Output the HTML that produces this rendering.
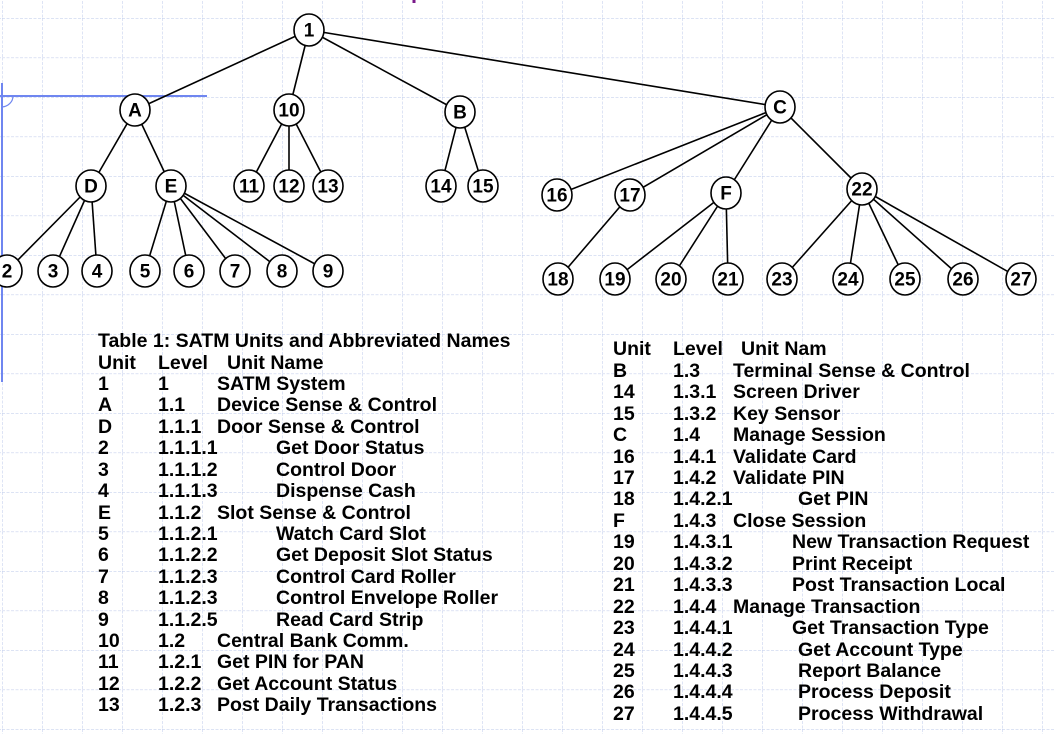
<!DOCTYPE html>
<html><head><meta charset="utf-8"><style>
html,body{margin:0;padding:0;background:#fff;}
svg{display:block;}
text{font-family:"Liberation Sans",Arial,sans-serif;font-weight:bold;fill:#000;}
.n{font-size:19px;text-anchor:middle;dominant-baseline:central;}
.t{font-size:19.5px;dominant-baseline:central;}
</style></head><body>
<svg width="1054" height="734" viewBox="0 0 1054 734" xmlns="http://www.w3.org/2000/svg">
<defs>
<pattern id="g" x="2" y="18" width="40" height="39.5" patternUnits="userSpaceOnUse">
<path d="M0 0H40M0 0V39.5" stroke="#c8d2ee" stroke-width="1.2" stroke-dasharray="3,1.5" fill="none"/>
</pattern>
</defs>
<rect width="1054" height="734" fill="url(#g)"/>
<line x1="414" y1="0" x2="414" y2="3" stroke="#7a1a8a" stroke-width="3"/>
<line x1="2" y1="83" x2="2" y2="382" stroke="#6f86f0" stroke-width="2"/>
<line x1="0" y1="96" x2="207" y2="96" stroke="#6f86f0" stroke-width="2"/>
<path d="M2 107 A12 11 0 0 0 13 96" stroke="#6f86f0" stroke-width="1.2" fill="none"/>
<g stroke="#000" stroke-width="1.6">
<line x1="309" y1="30" x2="135" y2="110"/><line x1="309" y1="30" x2="289" y2="110"/>
<line x1="309" y1="30" x2="460" y2="112"/><line x1="309" y1="30" x2="780" y2="107"/>
<line x1="135" y1="110" x2="91" y2="186"/><line x1="135" y1="110" x2="171" y2="186"/>
<line x1="289" y1="110" x2="249" y2="186"/><line x1="289" y1="110" x2="289" y2="186"/><line x1="289" y1="110" x2="328" y2="186"/>
<line x1="460" y1="112" x2="441" y2="186"/><line x1="460" y1="112" x2="483" y2="186"/>
<line x1="91" y1="186" x2="7" y2="271"/><line x1="91" y1="186" x2="53" y2="271"/><line x1="91" y1="186" x2="97" y2="271"/>
<line x1="171" y1="186" x2="145" y2="271"/><line x1="171" y1="186" x2="189" y2="271"/><line x1="171" y1="186" x2="235" y2="271"/><line x1="171" y1="186" x2="282" y2="271"/><line x1="171" y1="186" x2="328" y2="271"/>
<line x1="780" y1="107" x2="557" y2="195"/><line x1="780" y1="107" x2="630" y2="195"/><line x1="780" y1="107" x2="726" y2="193"/><line x1="780" y1="107" x2="862" y2="189"/>
<line x1="630" y1="195" x2="558" y2="279"/>
<line x1="726" y1="193" x2="615" y2="279"/><line x1="726" y1="193" x2="671" y2="279"/><line x1="726" y1="193" x2="728" y2="279"/>
<line x1="862" y1="189" x2="782" y2="279"/><line x1="862" y1="189" x2="848" y2="279"/><line x1="862" y1="189" x2="905" y2="279"/><line x1="862" y1="189" x2="963" y2="279"/><line x1="862" y1="189" x2="1021" y2="279"/>
</g>
<g fill="#fff" stroke="#000" stroke-width="1.6">
<ellipse cx="309" cy="30" rx="15" ry="16"/>
<ellipse cx="135" cy="110" rx="15" ry="16"/><ellipse cx="289" cy="110" rx="15" ry="16"/><ellipse cx="460" cy="112" rx="15" ry="16"/><ellipse cx="780" cy="107" rx="15" ry="16"/>
<ellipse cx="91" cy="186" rx="15" ry="16"/><ellipse cx="171" cy="186" rx="15" ry="16"/><ellipse cx="249" cy="186" rx="15" ry="16"/><ellipse cx="289" cy="186" rx="15" ry="16"/><ellipse cx="328" cy="186" rx="15" ry="16"/><ellipse cx="441" cy="186" rx="15" ry="16"/><ellipse cx="483" cy="186" rx="15" ry="16"/>
<ellipse cx="557" cy="195" rx="15" ry="16"/><ellipse cx="630" cy="195" rx="15" ry="16"/><ellipse cx="726" cy="193" rx="15" ry="16"/><ellipse cx="862" cy="189" rx="15" ry="16"/>
<ellipse cx="7" cy="271" rx="15" ry="16"/><ellipse cx="53" cy="271" rx="15" ry="16"/><ellipse cx="97" cy="271" rx="15" ry="16"/><ellipse cx="145" cy="271" rx="15" ry="16"/><ellipse cx="189" cy="271" rx="15" ry="16"/><ellipse cx="235" cy="271" rx="15" ry="16"/><ellipse cx="282" cy="271" rx="15" ry="16"/><ellipse cx="328" cy="271" rx="15" ry="16"/>
<ellipse cx="558" cy="279" rx="15" ry="16"/><ellipse cx="615" cy="279" rx="15" ry="16"/><ellipse cx="671" cy="279" rx="15" ry="16"/><ellipse cx="728" cy="279" rx="15" ry="16"/><ellipse cx="782" cy="279" rx="15" ry="16"/><ellipse cx="848" cy="279" rx="15" ry="16"/><ellipse cx="905" cy="279" rx="15" ry="16"/><ellipse cx="963" cy="279" rx="15" ry="16"/><ellipse cx="1021" cy="279" rx="15" ry="16"/>
</g>
<g class="n">
<text class="n" x="309" y="31">1</text>
<text class="n" x="135" y="111">A</text><text class="n" x="289" y="111">10</text><text class="n" x="460" y="113">B</text><text class="n" x="780" y="108">C</text>
<text class="n" x="91" y="187">D</text><text class="n" x="171" y="187">E</text><text class="n" x="249" y="187">11</text><text class="n" x="289" y="187">12</text><text class="n" x="328" y="187">13</text><text class="n" x="441" y="187">14</text><text class="n" x="483" y="187">15</text>
<text class="n" x="557" y="196">16</text><text class="n" x="630" y="196">17</text><text class="n" x="726" y="194">F</text><text class="n" x="862" y="190">22</text>
<text class="n" x="7" y="272">2</text><text class="n" x="53" y="272">3</text><text class="n" x="97" y="272">4</text><text class="n" x="145" y="272">5</text><text class="n" x="189" y="272">6</text><text class="n" x="235" y="272">7</text><text class="n" x="282" y="272">8</text><text class="n" x="328" y="272">9</text>
<text class="n" x="558" y="280">18</text><text class="n" x="615" y="280">19</text><text class="n" x="671" y="280">20</text><text class="n" x="728" y="280">21</text><text class="n" x="782" y="280">23</text><text class="n" x="848" y="280">24</text><text class="n" x="905" y="280">25</text><text class="n" x="963" y="280">26</text><text class="n" x="1021" y="280">27</text>
</g>
<g class="t">
<text class="t" x="98" y="341">Table 1:  SATM Units and Abbreviated Names</text>
<text class="t" x="98" y="363">Unit</text><text class="t" x="158" y="363">Level</text><text class="t" x="227" y="363">Unit Name</text>
<text class="t" x="98" y="384">1</text><text class="t" x="158" y="384">1</text><text class="t" x="217" y="384">SATM System</text>
<text class="t" x="98" y="405">A</text><text class="t" x="158" y="405">1.1</text><text class="t" x="217" y="405">Device Sense &amp; Control</text>
<text class="t" x="98" y="427">D</text><text class="t" x="158" y="427">1.1.1</text><text class="t" x="217" y="427">Door Sense &amp; Control</text>
<text class="t" x="98" y="448">2</text><text class="t" x="158" y="448">1.1.1.1</text><text class="t" x="276" y="448">Get Door Status</text>
<text class="t" x="98" y="470">3</text><text class="t" x="158" y="470">1.1.1.2</text><text class="t" x="276" y="470">Control Door</text>
<text class="t" x="98" y="491">4</text><text class="t" x="158" y="491">1.1.1.3</text><text class="t" x="276" y="491">Dispense Cash</text>
<text class="t" x="98" y="513">E</text><text class="t" x="158" y="513">1.1.2</text><text class="t" x="217" y="513">Slot Sense &amp; Control</text>
<text class="t" x="98" y="534">5</text><text class="t" x="158" y="534">1.1.2.1</text><text class="t" x="276" y="534">Watch Card Slot</text>
<text class="t" x="98" y="555">6</text><text class="t" x="158" y="555">1.1.2.2</text><text class="t" x="276" y="555">Get Deposit Slot Status</text>
<text class="t" x="98" y="577">7</text><text class="t" x="158" y="577">1.1.2.3</text><text class="t" x="276" y="577">Control Card Roller</text>
<text class="t" x="98" y="598">8</text><text class="t" x="158" y="598">1.1.2.3</text><text class="t" x="276" y="598">Control Envelope Roller</text>
<text class="t" x="98" y="620">9</text><text class="t" x="158" y="620">1.1.2.5</text><text class="t" x="276" y="620">Read Card Strip</text>
<text class="t" x="98" y="641">10</text><text class="t" x="158" y="641">1.2</text><text class="t" x="217" y="641">Central Bank Comm.</text>
<text class="t" x="98" y="662">11</text><text class="t" x="158" y="662">1.2.1</text><text class="t" x="217" y="662">Get PIN for PAN</text>
<text class="t" x="98" y="684">12</text><text class="t" x="158" y="684">1.2.2</text><text class="t" x="217" y="684">Get Account Status</text>
<text class="t" x="98" y="705">13</text><text class="t" x="158" y="705">1.2.3</text><text class="t" x="217" y="705">Post Daily Transactions</text>

<text class="t" x="613" y="349">Unit</text><text class="t" x="673" y="349">Level</text><text class="t" x="741" y="349">Unit Nam</text>
<text class="t" x="613" y="371">B</text><text class="t" x="673" y="371">1.3</text><text class="t" x="733" y="371">Terminal Sense &amp; Control</text>
<text class="t" x="613" y="392">14</text><text class="t" x="673" y="392">1.3.1</text><text class="t" x="733" y="392">Screen Driver</text>
<text class="t" x="613" y="414">15</text><text class="t" x="673" y="414">1.3.2</text><text class="t" x="733" y="414">Key Sensor</text>
<text class="t" x="613" y="435">C</text><text class="t" x="673" y="435">1.4</text><text class="t" x="733" y="435">Manage Session</text>
<text class="t" x="613" y="457">16</text><text class="t" x="673" y="457">1.4.1</text><text class="t" x="733" y="457">Validate Card</text>
<text class="t" x="613" y="478">17</text><text class="t" x="673" y="478">1.4.2</text><text class="t" x="733" y="478">Validate PIN</text>
<text class="t" x="613" y="499">18</text><text class="t" x="673" y="499">1.4.2.1</text><text class="t" x="798" y="499">Get PIN</text>
<text class="t" x="613" y="521">F</text><text class="t" x="673" y="521">1.4.3</text><text class="t" x="733" y="521">Close Session</text>
<text class="t" x="613" y="542">19</text><text class="t" x="673" y="542">1.4.3.1</text><text class="t" x="792" y="542">New Transaction Request</text>
<text class="t" x="613" y="564">20</text><text class="t" x="673" y="564">1.4.3.2</text><text class="t" x="792" y="564">Print Receipt</text>
<text class="t" x="613" y="585">21</text><text class="t" x="673" y="585">1.4.3.3</text><text class="t" x="792" y="585">Post Transaction Local</text>
<text class="t" x="613" y="607">22</text><text class="t" x="673" y="607">1.4.4</text><text class="t" x="733" y="607">Manage Transaction</text>
<text class="t" x="613" y="628">23</text><text class="t" x="673" y="628">1.4.4.1</text><text class="t" x="792" y="628">Get Transaction Type</text>
<text class="t" x="613" y="650">24</text><text class="t" x="673" y="650">1.4.4.2</text><text class="t" x="798" y="650">Get Account Type</text>
<text class="t" x="613" y="671">25</text><text class="t" x="673" y="671">1.4.4.3</text><text class="t" x="798" y="671">Report Balance</text>
<text class="t" x="613" y="692">26</text><text class="t" x="673" y="692">1.4.4.4</text><text class="t" x="798" y="692">Process Deposit</text>
<text class="t" x="613" y="714">27</text><text class="t" x="673" y="714">1.4.4.5</text><text class="t" x="798" y="714">Process Withdrawal</text>
</g>
</svg>
</body></html>
